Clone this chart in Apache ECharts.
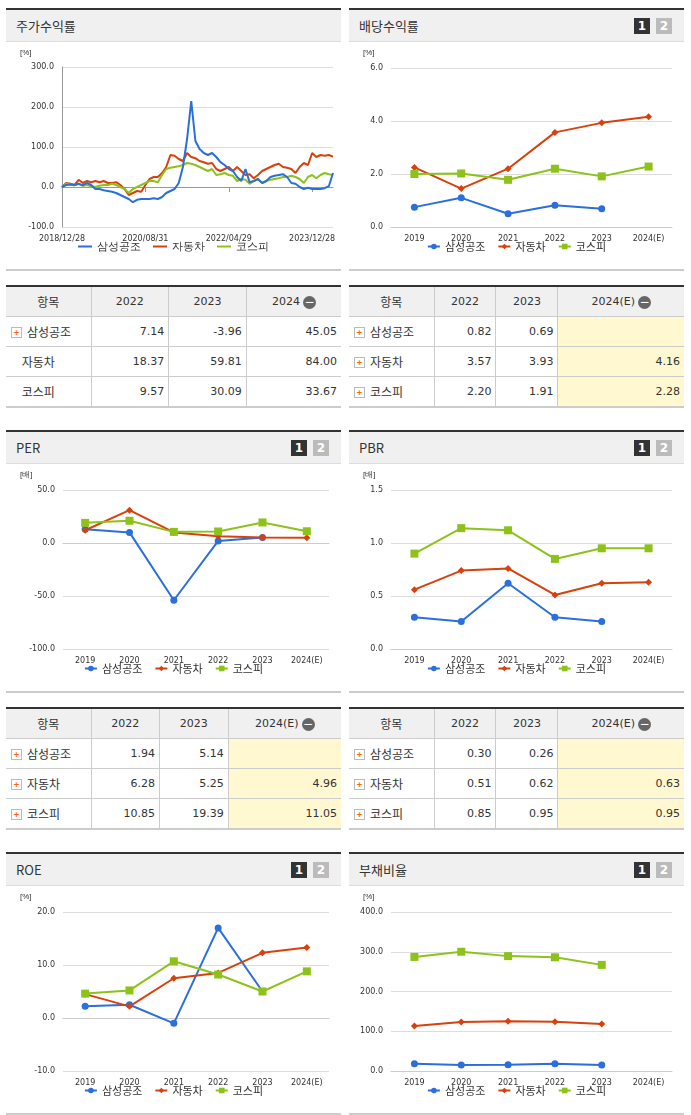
<!DOCTYPE html>
<html><head><meta charset="utf-8">
<script src="https://cdn.jsdelivr.net/npm/echarts@6/dist/echarts.min.js"></script>
<style>
body{margin:0;background:#fff;font-family:"Noto Sans CJK KR","DejaVu Sans",sans-serif;width:691px;height:1115px;position:relative;overflow:hidden}
.panel{position:absolute;width:335px;height:259px;border-top:2px solid #333;border-bottom:2px solid #ccc}
.head{height:31px;background:#f0f0f0;border-bottom:1px solid #ddd;font-size:13px;color:#333;line-height:31px;padding-left:10px;position:relative}
.badge{position:absolute;top:8px;width:16px;height:16px;font-size:12px;line-height:16px;text-align:center;color:#fff;font-weight:bold;font-family:"DejaVu Sans"}
.chart{width:335px;height:225px}
table{position:absolute;width:335px;border-collapse:collapse;font-size:12px;color:#333;border-top:2px solid #333;border-bottom:2px solid #ccc}
td{border:1px solid #ccc;height:29px;padding:0 4px 0 0;text-align:right;font-family:"DejaVu Sans";font-size:11px}
tr:first-child td{background:#f0f0f0;text-align:center;padding:0}
td:first-child{text-align:left;padding-left:5px;font-family:"Noto Sans CJK KR";font-size:12px;border-left:none}
td:last-child{border-right:none}
.y td.e{background:#fff8d0}
.plus{display:inline-block;width:9px;height:9px;border:1px solid #bbb;color:#f60;font-size:9px;line-height:9px;text-align:center;margin-right:5px;vertical-align:1px;font-weight:bold}
.minus{display:inline-block;width:13px;height:13px;border-radius:7px;background:#666;color:#fff;line-height:12px;font-size:12px;vertical-align:-1px;margin-left:3px}
</style></head><body>
<div id="root"></div>
<script>
var names = ['삼성공조', '자동차', '코스피'];
var colors = ['#2a6fdb', '#d8400c', '#8cc21a'];
var years = ['2019', '2020', '2021', '2022', '2023', '2024(E)'];

// 주가수익률 (monthly)
var priceDates = [];
for (var i = 0; i < 66; i++) {
    var m = (11 + i) % 12 + 1, y = 2018 + Math.floor((11 + i) / 12);
    priceDates.push(y + '/' + (m < 10 ? '0' + m : m) + '/' + (i == 20 ? '31' : i == 40 ? '29' : '28'));
}
var priceSamsung = [0,5,6,5,8,4,10,5,-5,-5,-8,-10,-12,-15,-20,-25,-30,-38,-32,-30,-30,-30,-28,-30,-25,-15,-10,-5,10,50,120,215,115,95,85,80,85,75,62,55,45,40,25,15,45,12,15,20,10,15,25,28,30,32,25,10,8,0,-5,-2,-5,-5,-5,-3,2,35];
var priceAuto = [0,10,8,5,18,10,15,12,15,12,15,10,10,12,5,-5,-20,-15,-10,-12,5,20,25,25,35,50,80,78,70,65,85,75,72,65,62,58,60,45,40,45,50,40,50,40,30,32,22,30,40,45,50,55,58,50,48,45,35,50,60,55,85,75,80,78,80,76];
var priceKospi = [0,8,6,4,8,3,5,2,0,3,5,5,8,5,0,-5,-15,-5,0,5,10,15,15,12,30,45,48,50,52,55,60,58,55,50,45,40,45,30,32,35,30,28,15,20,18,8,15,20,10,15,18,20,22,25,25,28,25,20,10,25,30,22,30,35,32,30];

var divSamsung = [0.75, 1.1, 0.5, 0.82, 0.69, null];
var divAuto = [2.25, 1.45, 2.2, 3.57, 3.93, 4.16];
var divKospi = [2.0, 2.02, 1.78, 2.20, 1.91, 2.28];
var perSamsung = [13, 10, -54, 1.94, 5.14, null];
var perAuto = [12, 31, 10, 6.28, 5.25, 4.96];
var perKospi = [19, 21, 10.5, 10.85, 19.39, 11.05];
var pbrSamsung = [0.30, 0.26, 0.62, 0.30, 0.26, null];
var pbrAuto = [0.56, 0.74, 0.76, 0.51, 0.62, 0.63];
var pbrKospi = [0.90, 1.14, 1.12, 0.85, 0.95, 0.95];
var roeSamsung = [2.2, 2.5, -1, 17, 5, null];
var roeAuto = [4.5, 2.2, 7.5, 8.5, 12.3, 13.3];
var roeKospi = [4.6, 5.2, 10.7, 8.2, 5, 8.8];
var debtSamsung = [18, 15, 16, 18, 15, null];
var debtAuto = [113, 123, 125, 124, 118, null];
var debtKospi = [287, 300, 289, 286, 267, null];

var root = document.getElementById('root');
function panel(x, y, title, badges) {
    var p = document.createElement('div');
    p.className = 'panel'; p.style.left = x + 'px'; p.style.top = y + 'px';
    var h = '<div class="head">' + title;
    if (badges) h += '<span class="badge" style="right:34px;background:#333">1</span><span class="badge" style="right:12px;background:#bbb">2</span>';
    p.innerHTML = h + '</div><div class="chart"></div>';
    root.appendChild(p);
    return p.querySelector('.chart');
}
function table(x, y, head, rows, plus, yellow) {
    var t = document.createElement('table');
    t.style.left = x + 'px'; t.style.top = y + 'px';
    if (yellow) t.className = 'y';
    var h = '<colgroup><col style="width:85px"><col><col><col></colgroup><tr><td>항목</td><td>2022</td><td>2023</td><td>' + head + '<span class="minus">−</span></td></tr>';
    rows.forEach(function (r, i) {
        h += '<tr><td>' + (plus[i] ? '<span class="plus">+</span>' : '&nbsp;&nbsp;&nbsp;&nbsp;') + names[i] + '</td><td>' + r[0] + '</td><td>' + r[1] + '</td><td class="e">' + r[2] + '</td></tr>';
    });
    t.innerHTML = h;
    root.appendChild(t);
}
var axisText = {color: '#333', fontSize: 8, fontFamily: 'DejaVu Sans'};
function legend() {
    return {bottom: 10, itemWidth: 12, itemHeight: 7, itemGap: 12, textStyle: {fontSize: 11, color: '#333', fontFamily: 'Noto Sans CJK KR'}, data: names};
}
function smallChart(el, unit, min, max, interval, data, gridLeft) {
    var c = echarts.init(el);
    var symbols = ['circle', 'diamond', 'rect'];
    c.setOption({
        animation: false,
        grid: {left: gridLeft, right: 12, top: 26, bottom: 40},
        legend: legend(),
        graphic: [{type: 'text', left: 14, top: 7, style: {text: unit, fontSize: 8, fill: '#333'}}],
        xAxis: {type: 'category', data: years, axisLabel: axisText, axisTick: {show: false}, axisLine: {lineStyle: {color: '#ccc'}}},
        yAxis: {type: 'value', min: min, max: max, interval: interval, axisLabel: {color: '#333', fontSize: 8, fontFamily: 'DejaVu Sans', formatter: function (v) { return v.toFixed(1); }}, splitLine: {lineStyle: {color: '#ddd'}}},
        series: data.map(function (d, i) {
            return {name: names[i], type: 'line', data: d, symbol: symbols[i], symbolSize: i == 2 ? 8 : 7, lineStyle: {width: 2, color: colors[i]}, itemStyle: {color: colors[i]}};
        })
    });
}

// Price chart
var pc = echarts.init(panel(6, 8, '주가수익률', false));
pc.setOption({
    animation: false,
    grid: {left: 56, right: 8, top: 25, bottom: 40},
    legend: {bottom: 10, itemWidth: 14, itemHeight: 2, icon: 'rect', itemGap: 12, textStyle: {fontSize: 11, color: '#333'}, data: names},
    graphic: [{type: 'text', left: 14, top: 7, style: {text: '[%]', fontSize: 8, fill: '#333'}}],
    xAxis: {type: 'category', boundaryGap: false, data: priceDates,
        axisLabel: {color: '#333', fontSize: 8, fontFamily: 'DejaVu Sans', hideOverlap: false, interval: function (i) { return i % 20 == 0; }},
        axisTick: {interval: function (i) { return i % 20 == 0; }}, axisLine: {lineStyle: {color: '#999'}}},
    yAxis: {type: 'value', min: -100, max: 300, interval: 100, axisLabel: {color: '#333', fontSize: 8, fontFamily: 'DejaVu Sans', formatter: function (v) { return v.toFixed(1); }}, axisLine: {show: true, lineStyle: {color: '#999'}}, splitLine: {lineStyle: {color: '#ddd'}}},
    series: [priceSamsung, priceAuto, priceKospi].map(function (d, i) {
        return {name: names[i], type: 'line', data: d, showSymbol: false, lineStyle: {width: 2, color: colors[i]}, itemStyle: {color: colors[i]}, z: i == 0 ? 3 : 2};
    })
});

smallChart(panel(349, 8, '배당수익률', true), '[%]', 0, 6, 2, [divSamsung, divAuto, divKospi], 42);
smallChart(panel(6, 430, 'PER', true), '[배]', -100, 50, 50, [perSamsung, perAuto, perKospi], 57);
smallChart(panel(349, 430, 'PBR', true), '[배]', 0, 1.5, 0.5, [pbrSamsung, pbrAuto, pbrKospi], 42);
smallChart(panel(6, 852, 'ROE', true), '[%]', -10, 20, 10, [roeSamsung, roeAuto, roeKospi], 57);
smallChart(panel(349, 852, '부채비율', true), '[%]', 0, 400, 100, [debtSamsung, debtAuto, debtKospi], 42);

table(6, 285, '2024', [['7.14', '-3.96', '45.05'], ['18.37', '59.81', '84.00'], ['9.57', '30.09', '33.67']], [1, 0, 0], false);
table(349, 285, '2024(E)', [['0.82', '0.69', ''], ['3.57', '3.93', '4.16'], ['2.20', '1.91', '2.28']], [1, 1, 1], true);
table(6, 707, '2024(E)', [['1.94', '5.14', ''], ['6.28', '5.25', '4.96'], ['10.85', '19.39', '11.05']], [1, 1, 1], true);
table(349, 707, '2024(E)', [['0.30', '0.26', ''], ['0.51', '0.62', '0.63'], ['0.85', '0.95', '0.95']], [1, 1, 1], true);
</script>
</body></html>
